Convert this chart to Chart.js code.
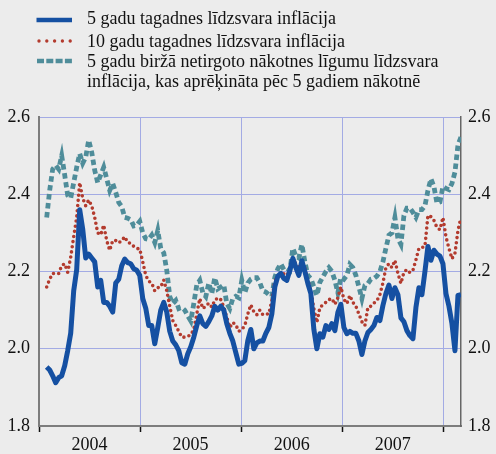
<!DOCTYPE html>
<html>
<head>
<meta charset="utf-8">
<script src="https://cdn.jsdelivr.net/npm/chart.js@4"></script>
<style>
  body { margin: 0; background: #ececec; }
  #wrap { position: relative; width: 496px; height: 454px; overflow: hidden; }
  #chart { position: absolute; left: 0; top: 0; }
  .txt { position: absolute; left: 87px; font: 18px "Liberation Serif", "Times New Roman", serif; color: #111; line-height: 20px; white-space: nowrap; }
  .sw { position: absolute; left: 36px; }
</style>
</head>
<body>
<div id="wrap">
  <canvas id="chart" width="496" height="454"></canvas>
  <svg class="sw" style="top:16px" width="37" height="8"><line x1="0.5" y1="4" x2="36" y2="4" stroke="#1550a2" stroke-width="4.5"/></svg>
  <div class="txt" style="top:8px">5 gadu tagadnes līdzsvara inflācija</div>
  <svg class="sw" style="top:37px" width="37" height="8"><line x1="3" y1="4" x2="36" y2="4" stroke="#b33b2e" stroke-width="3.4" stroke-linecap="round" stroke-dasharray="0 7.8"/></svg>
  <div class="txt" style="top:31px">10 gadu tagadnes līdzsvara inflācija</div>
  <svg class="sw" style="top:57px" width="37" height="8"><line x1="1" y1="4" x2="36" y2="4" stroke="#4f8d9a" stroke-width="4.3" stroke-dasharray="7 2.3"/></svg>
  <div class="txt" style="top:51px">5 gadu biržā netirgoto nākotnes līgumu līdzsvara<br>inflācija, kas aprēķināta pēc 5 gadiem nākotnē</div>
</div>
<script>
// observations roughly every 11 days, from late Jan 2004 to early Mar 2008
const startYear = 2004.076
const stepYears = 0.0297

const labels5y = '5 gadu tagadnes līdzsvara inflācija'
const labels10y = '10 gadu tagadnes līdzsvara inflācija'
const labelsFwd = '5 gadu biržā netirgoto nākotnes līgumu līdzsvara inflācija, kas aprēķināta pēc 5 gadiem nākotnē'

const spot5y = [
  1.953, 1.945, 1.93, 1.912, 1.925, 1.93, 1.956, 1.995, 2.04, 2.15,
  2.205, 2.36, 2.31, 2.235, 2.245, 2.235, 2.225, 2.16, 2.177, 2.12,
  2.12, 2.11, 2.095, 2.17, 2.18, 2.215, 2.232, 2.223, 2.22, 2.207,
  2.203, 2.19, 2.13, 2.105, 2.06, 2.06, 2.013, 2.055, 2.1, 2.12,
  2.095, 2.045, 2.02, 2.01, 1.995, 1.964, 1.96, 1.987, 2.005, 2.03,
  2.06, 2.085, 2.065, 2.058, 2.07, 2.085, 2.11, 2.1, 2.11, 2.1,
  2.065, 2.04, 2.02, 1.99, 1.96, 1.962, 1.969, 2.021, 2.05, 2.0,
  2.015, 2.02, 2.02, 2.04, 2.055, 2.09, 2.16, 2.188, 2.195, 2.182,
  2.177, 2.203, 2.234, 2.21, 2.19, 2.228, 2.2, 2.169, 2.143, 2.05,
  2.0, 2.039, 2.03, 2.06, 2.05, 2.065, 2.047, 2.094, 2.115, 2.055,
  2.039, 2.045, 2.04, 2.04, 2.02, 1.985, 2.02, 2.042, 2.05, 2.06,
  2.081, 2.073, 2.112, 2.143, 2.165, 2.13, 2.158, 2.14, 2.08, 2.07,
  2.047, 2.034, 2.026, 2.107, 2.158, 2.14, 2.2, 2.265, 2.229, 2.255,
  2.245, 2.24, 2.22, 2.143, 2.11, 2.065, 1.995, 2.138, 2.14
]

const spot10y = [
  2.16, 2.18, 2.195, 2.195, 2.195, 2.215, 2.22, 2.198, 2.237, 2.29,
  2.34, 2.43, 2.39, 2.37, 2.385, 2.37, 2.34, 2.3, 2.295, 2.32,
  2.28, 2.255, 2.28, 2.28, 2.274, 2.28, 2.29, 2.275, 2.273, 2.265,
  2.26, 2.258, 2.225, 2.19, 2.175, 2.17, 2.15, 2.158, 2.16, 2.178,
  2.15, 2.11, 2.073, 2.06, 2.045, 2.03, 2.03, 2.032, 2.036, 2.05,
  2.09, 2.13, 2.104, 2.11, 2.118, 2.108, 2.125, 2.132, 2.127, 2.108,
  2.081, 2.055, 2.068, 2.062, 2.045, 2.05, 2.06, 2.09, 2.114, 2.096,
  2.088, 2.1, 2.088, 2.09, 2.09, 2.125, 2.176, 2.186, 2.19, 2.194,
  2.19, 2.203, 2.225, 2.222, 2.21, 2.218, 2.208, 2.177, 2.15, 2.104,
  2.068, 2.106, 2.114, 2.12, 2.127, 2.13, 2.115, 2.132, 2.16, 2.128,
  2.117, 2.138, 2.12, 2.11, 2.09, 2.07, 2.06, 2.107, 2.11, 2.118,
  2.124, 2.14, 2.17, 2.21, 2.22, 2.21, 2.229, 2.195, 2.169, 2.198,
  2.205, 2.197, 2.203, 2.23, 2.26, 2.262, 2.265, 2.345, 2.342, 2.332,
  2.314, 2.308, 2.34, 2.29, 2.26, 2.233, 2.247, 2.306, 2.34
]

const fwd5y5y = [
  2.34, 2.41, 2.465, 2.475, 2.465, 2.5, 2.45, 2.397, 2.39, 2.43,
  2.47, 2.505, 2.48, 2.496, 2.54, 2.509, 2.462, 2.43, 2.45, 2.47,
  2.44, 2.41, 2.428, 2.405, 2.379, 2.368, 2.34, 2.338, 2.334, 2.318,
  2.32, 2.33, 2.3, 2.285, 2.283, 2.294, 2.275, 2.306, 2.26, 2.248,
  2.203, 2.135, 2.117, 2.125, 2.104, 2.107, 2.1, 2.085, 2.072, 2.117,
  2.165, 2.177, 2.145, 2.135, 2.17, 2.143, 2.184, 2.155, 2.16, 2.165,
  2.117, 2.104, 2.13, 2.136, 2.132, 2.177, 2.145, 2.17, 2.18, 2.184,
  2.184, 2.171, 2.15, 2.147, 2.14, 2.135, 2.185, 2.207, 2.22, 2.205,
  2.208, 2.203, 2.26, 2.24, 2.235, 2.27, 2.225, 2.19, 2.182, 2.16,
  2.138, 2.172, 2.186, 2.2, 2.21, 2.2, 2.177, 2.145, 2.185, 2.18,
  2.19, 2.218, 2.21, 2.19, 2.16, 2.13, 2.164, 2.169, 2.18, 2.182,
  2.188, 2.2, 2.225, 2.26, 2.294, 2.3, 2.34, 2.285, 2.27, 2.345,
  2.364, 2.364, 2.353, 2.34, 2.36, 2.36, 2.37, 2.41, 2.44, 2.42,
  2.377, 2.38, 2.42, 2.415, 2.412, 2.428, 2.457, 2.527, 2.548
]

// year boundaries get a grid line, mid-years carry the label
const xTicks = [2004, 2004.5, 2005, 2005.5, 2006, 2006.5, 2007, 2007.5, 2008]
const yTicks = [1.8, 2.0, 2.2, 2.4, 2.6]

const dates = spot5y.map(function(_, i) { return startYear + i * stepYears })

function points(values) {
  return values.map(function(v, i) { return { x: dates[i], y: v } })
}

const gridBlue = '#a3abe4'
const clear = 'rgba(0,0,0,0)'
const tickFont = { family: 'Liberation Serif', size: 18 }

function isBoundary(c) {
  return c.tick && Math.abs(c.tick.value % 1) < 1e-6
}

let ctx = document.getElementById('chart').getContext('2d')
let chart = new Chart(ctx, {
  type: 'line',
  data: {
    datasets: [{
      label: labels5y,
      data: points(spot5y),
      borderColor: '#1550a2',
      borderWidth: 5,
      borderJoinStyle: 'round',
      pointRadius: 0,
      order: 0
    }, {
      label: labels10y,
      data: points(spot10y),
      borderColor: '#b33b2e',
      borderWidth: 3.6,
      borderDash: [0, 5.2],
      borderCapStyle: 'round',
      pointRadius: 0,
      order: 1
    }, {
      label: labelsFwd,
      data: points(fwd5y5y),
      borderColor: '#4f8d9a',
      borderWidth: 4.8,
      borderDash: [5.5, 3.5],
      pointRadius: 0,
      order: 2
    }]
  },
  options: {
    responsive: false,
    animation: false,
    layout: { padding: { top: 117 } },
    plugins: { legend: { display: false }, tooltip: { enabled: false } },
    scales: {
      x: {
        type: 'linear',
        min: 2004,
        max: 2008.175,
        afterBuildTicks: function(s) { s.ticks = xTicks.map(function(v) { return { value: v } }) },
        afterFit: function(s) { s.height = 28 },
        ticks: {
          autoSkip: false,
          maxRotation: 0,
          padding: 2,
          color: '#111',
          font: tickFont,
          callback: function(v) { return v % 1 ? String(Math.floor(v)) : '' }
        },
        grid: {
          color: function(c) { return isBoundary(c) ? gridBlue : clear },
          tickColor: function(c) { return isBoundary(c) ? '#111' : clear },
          tickLength: 6,
          tickWidth: 1.5
        },
        border: { color: '#7d7d7d', width: 2 }
      },
      y: {
        position: 'left',
        min: 1.8,
        max: 2.6,
        afterBuildTicks: function(s) { s.ticks = yTicks.map(function(v) { return { value: v } }) },
        afterFit: function(s) { s.width = 39 },
        ticks: { padding: 9, color: '#111', font: tickFont, callback: function(v) { return v.toFixed(1) } },
        grid: { color: gridBlue, drawTicks: false },
        border: { color: '#7d7d7d', width: 2 }
      },
      y2: {
        position: 'right',
        min: 1.8,
        max: 2.6,
        afterBuildTicks: function(s) { s.ticks = yTicks.map(function(v) { return { value: v } }) },
        afterFit: function(s) { s.width = 35 },
        ticks: { padding: 7, color: '#111', font: tickFont, callback: function(v) { return v.toFixed(1) } },
        grid: { drawOnChartArea: false, drawTicks: false },
        border: { color: '#666', width: 1.5 }
      }
    }
  }
})
</script>
</body>
</html>
